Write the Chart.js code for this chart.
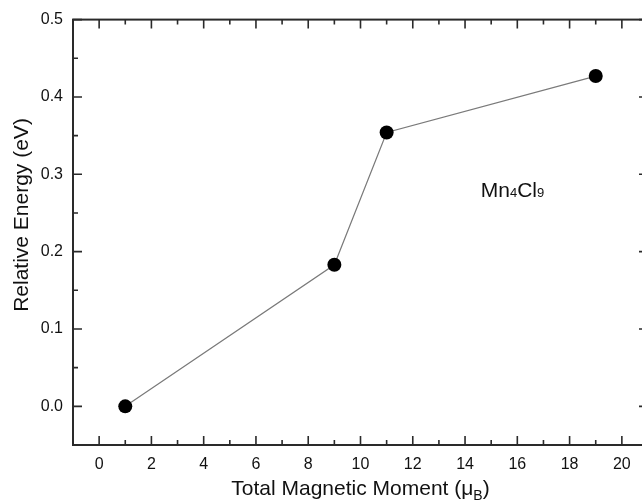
<!DOCTYPE html>
<html>
<head>
<meta charset="utf-8">
<script src="https://cdn.jsdelivr.net/npm/chart.js@4/dist/chart.umd.min.js"></script>
<style>
  html, body { margin: 0; padding: 0; background: #fff; overflow: hidden; width: 642px; height: 501px; }
  #wrap { width: 660px; height: 501px; }
</style>
</head>
<body>
<div id="wrap"><canvas id="c" width="660" height="501"></canvas></div>
<script>
// Data
const moments = [1, 9, 11, 19];
const energies = [0.0, 0.183, 0.354, 0.427];
const xTickValues = [0, 2, 4, 6, 8, 10, 12, 14, 16, 18, 20];
const xMinorValues = [-1, 1, 3, 5, 7, 9, 11, 13, 15, 17, 19, 21];
const yTickValues = [0.0, 0.1, 0.2, 0.3, 0.4, 0.5];
const yMinorValues = [-0.05, 0.05, 0.15, 0.25, 0.35, 0.45];
const xAxisTitle = 'Total Magnetic Moment (\u03BC';
const xAxisTitleSub = 'B';
const xAxisTitleEnd = ')';
const yAxisTitle = 'Relative Energy (eV)';
const annotationParts = [['Mn', false], ['4', true], ['Cl', false], ['9', true]];
const annotationPos = { x: 14.6, y: 0.27 };

const FONT = '"Liberation Sans", Arial, sans-serif';
const AXIS_COLOR = '#2a2a2a';

const framePlugin = {
  id: 'frame',
  afterDraw(chart) {
    const ctx = chart.ctx;
    const a = chart.chartArea;
    const xs = chart.scales.x, ys = chart.scales.y;
    ctx.save();
    ctx.strokeStyle = AXIS_COLOR;
    ctx.lineWidth = 2;
    ctx.strokeRect(a.left, a.top, a.right - a.left, a.bottom - a.top);
    ctx.lineWidth = 1.6;
    ctx.beginPath();
    const major = 9, minor = 5;
    xTickValues.forEach(v => {
      const px = xs.getPixelForValue(v);
      ctx.moveTo(px, a.bottom); ctx.lineTo(px, a.bottom - major);
      ctx.moveTo(px, a.top); ctx.lineTo(px, a.top + major);
    });
    xMinorValues.forEach(v => {
      const px = xs.getPixelForValue(v);
      ctx.moveTo(px, a.bottom); ctx.lineTo(px, a.bottom - minor);
      ctx.moveTo(px, a.top); ctx.lineTo(px, a.top + minor);
    });
    yTickValues.forEach(v => {
      const py = ys.getPixelForValue(v);
      ctx.moveTo(a.left, py); ctx.lineTo(a.left + major, py);
      ctx.moveTo(a.right, py); ctx.lineTo(a.right - major, py);
    });
    yMinorValues.forEach(v => {
      const py = ys.getPixelForValue(v);
      ctx.moveTo(a.left, py); ctx.lineTo(a.left + minor, py);
      ctx.moveTo(a.right, py); ctx.lineTo(a.right - minor, py);
    });
    ctx.stroke();

    // X axis title with subscript
    ctx.fillStyle = '#111';
    const mainF = '21px ' + FONT, subF = '14px ' + FONT;
    ctx.font = mainF;
    const w1 = ctx.measureText(xAxisTitle).width;
    const w3 = ctx.measureText(xAxisTitleEnd).width;
    ctx.font = subF;
    const w2 = ctx.measureText(xAxisTitleSub).width;
    const total = w1 + w2 + w3;
    let x0 = (a.left + a.right) / 2 - total / 2;
    const base = 495;
    ctx.textBaseline = 'alphabetic';
    ctx.textAlign = 'left';
    ctx.font = mainF; ctx.fillText(xAxisTitle, x0, base);
    ctx.font = subF; ctx.fillText(xAxisTitleSub, x0 + w1, base + 5);
    ctx.font = mainF; ctx.fillText(xAxisTitleEnd, x0 + w1 + w2, base);

    // Y axis title
    ctx.save();
    ctx.translate(27.5, 215);
    ctx.rotate(-Math.PI / 2);
    ctx.textAlign = 'center';
    ctx.font = mainF;
    ctx.fillText(yAxisTitle, 0, 0);
    ctx.restore();

    // Annotation Mn4Cl9
    let ax = xs.getPixelForValue(annotationPos.x);
    const ay = ys.getPixelForValue(annotationPos.y);
    annotationParts.forEach(([t, sub]) => {
      ctx.font = (sub ? '13px ' : '21px ') + FONT;
      ctx.fillText(t, ax, ay);
      ax += ctx.measureText(t).width;
    });
    ctx.restore();
  }
};

new Chart(document.getElementById('c'), {
  type: 'scatter',
  data: {
    datasets: [{
      data: moments.map((m, i) => ({ x: m, y: energies[i] })),
      showLine: true,
      borderColor: '#7a7a7a',
      borderWidth: 1.2,
      pointRadius: 7,
      pointHoverRadius: 7,
      pointBackgroundColor: '#000',
      pointBorderColor: '#000',
      pointBorderWidth: 0
    }]
  },
  options: {
    responsive: false,
    animation: false,
    devicePixelRatio: 1,
    layout: { padding: { top: 19, right: 12, left: 0, bottom: 0 } },
    plugins: { legend: { display: false }, tooltip: { enabled: false } },
    scales: {
      x: {
        type: 'linear',
        min: -1, max: 21,
        grid: { display: false, drawTicks: false },
        border: { display: false },
        afterBuildTicks: s => { s.ticks = xTickValues.map(v => ({ value: v })); },
        afterFit: s => { s.height = 56; },
        ticks: {
          padding: 10,
          color: '#111',
          font: { family: FONT, size: 16 },
          maxRotation: 0,
          callback: v => String(v)
        }
      },
      y: {
        type: 'linear',
        min: -0.05, max: 0.5,
        grid: { display: false, drawTicks: false },
        border: { display: false },
        afterBuildTicks: s => { s.ticks = yTickValues.map(v => ({ value: v })); },
        afterFit: s => { s.width = 73; },
        ticks: {
          padding: 10,
          color: '#111',
          font: { family: FONT, size: 16 },
          callback: v => Number(v).toFixed(1)
        }
      }
    }
  },
  plugins: [framePlugin]
});
</script>
</body>
</html>
